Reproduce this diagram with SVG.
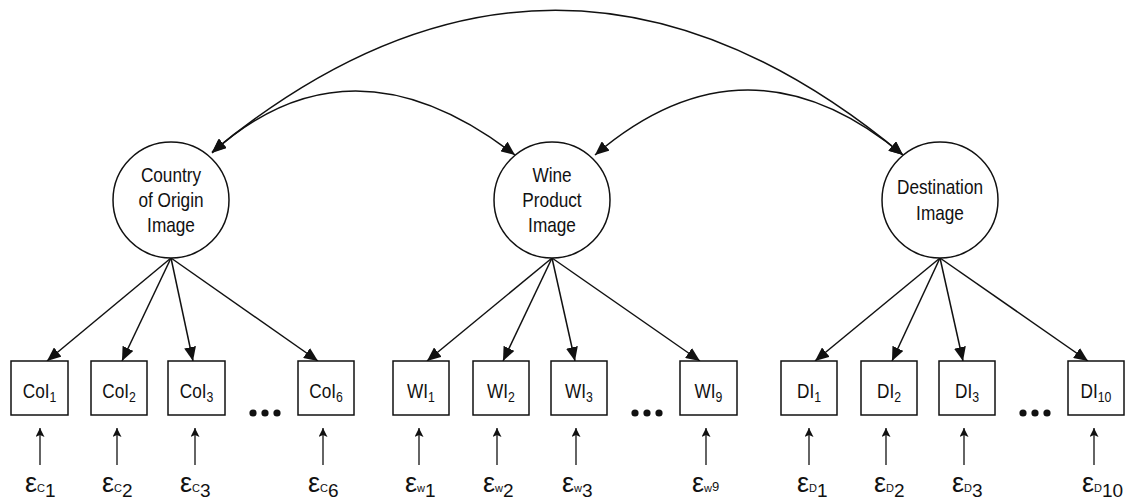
<svg xmlns="http://www.w3.org/2000/svg" width="1127" height="499" viewBox="0 0 1127 499">
  <style>
    .txt { font-family: "Liberation Sans Narrow", "Liberation Sans", Arial, sans-serif; fill: #111; }
    .lat { font-size: 21px; text-anchor: middle; }
    .ind { font-size: 21px; text-anchor: middle; }
    .sub { font-size: 15px; }
    .eps { font-family: "Liberation Sans", Arial, sans-serif; font-size: 27px; fill: #111; }
    .esub { font-size: 11px; }
    .enum { font-size: 19px; }
    .node { fill: #fff; stroke: #111; stroke-width: 1.5; }
    .edge { fill: none; stroke: #111; stroke-width: 1.5; }
    .err { fill: none; stroke: #111; stroke-width: 1.3; }
    .dot { fill: #111; }
  </style>
  <defs>
    <marker id="head" markerUnits="userSpaceOnUse" markerWidth="15" markerHeight="12" refX="14" refY="6" orient="auto-start-reverse">
      <path d="M0,0 L14,6 L0,12 z" fill="#111"/>
    </marker>
    <marker id="small" markerUnits="userSpaceOnUse" markerWidth="10" markerHeight="10" refX="9" refY="4.5" orient="auto">
      <path d="M0,0 L9,4.5 L0,9 L2,4.5 z" fill="#111"/>
    </marker>
  </defs>

  <!-- connectors -->
  <g id="connectors">
    <!-- covariances between latent factors -->
    <path class="edge" d="M212,153 Q350,28 515,155" marker-start="url(#head)" marker-end="url(#head)"/>
    <path class="edge" d="M595,155 Q747,25 903,155" marker-start="url(#head)" marker-end="url(#head)"/>
    <path class="edge" d="M212,152 Q557,-133 903,155" marker-start="url(#head)" marker-end="url(#head)"/>

    <!-- loadings: Country of Origin Image -->
    <line class="edge" x1="171" y1="258" x2="47" y2="361" marker-end="url(#head)"/>
    <line class="edge" x1="171" y1="258" x2="122" y2="361" marker-end="url(#head)"/>
    <line class="edge" x1="171" y1="258" x2="193" y2="361" marker-end="url(#head)"/>
    <line class="edge" x1="171" y1="258" x2="318" y2="361" marker-end="url(#head)"/>

    <!-- loadings: Wine Product Image -->
    <line class="edge" x1="552" y1="258" x2="427" y2="361" marker-end="url(#head)"/>
    <line class="edge" x1="552" y1="258" x2="503" y2="361" marker-end="url(#head)"/>
    <line class="edge" x1="552" y1="258" x2="575" y2="361" marker-end="url(#head)"/>
    <line class="edge" x1="552" y1="258" x2="700" y2="361" marker-end="url(#head)"/>

    <!-- loadings: Destination Image -->
    <line class="edge" x1="940" y1="258" x2="815" y2="361" marker-end="url(#head)"/>
    <line class="edge" x1="940" y1="258" x2="892" y2="361" marker-end="url(#head)"/>
    <line class="edge" x1="940" y1="258" x2="963" y2="361" marker-end="url(#head)"/>
    <line class="edge" x1="940" y1="258" x2="1088" y2="361" marker-end="url(#head)"/>

    <!-- error terms -->
    <line class="err" x1="40" y1="465" x2="40" y2="428" marker-end="url(#small)"/>
    <line class="err" x1="117" y1="465" x2="117" y2="428" marker-end="url(#small)"/>
    <line class="err" x1="195" y1="465" x2="195" y2="428" marker-end="url(#small)"/>
    <line class="err" x1="323" y1="465" x2="323" y2="428" marker-end="url(#small)"/>
    <line class="err" x1="419" y1="465" x2="419" y2="428" marker-end="url(#small)"/>
    <line class="err" x1="497" y1="465" x2="497" y2="428" marker-end="url(#small)"/>
    <line class="err" x1="576" y1="465" x2="576" y2="428" marker-end="url(#small)"/>
    <line class="err" x1="706" y1="465" x2="706" y2="428" marker-end="url(#small)"/>
    <line class="err" x1="809" y1="465" x2="809" y2="428" marker-end="url(#small)"/>
    <line class="err" x1="886" y1="465" x2="886" y2="428" marker-end="url(#small)"/>
    <line class="err" x1="964" y1="465" x2="964" y2="428" marker-end="url(#small)"/>
    <line class="err" x1="1094" y1="465" x2="1094" y2="428" marker-end="url(#small)"/>
  </g>

  <!-- latent factors (labels squeezed horizontally for a condensed face) -->
  <g id="coi">
    <circle class="node" cx="171" cy="200" r="58"/>
    <g transform="translate(171 0) scale(0.82 1)">
      <text class="txt lat" x="0" y="182">Country</text>
      <text class="txt lat" x="0" y="207">of Origin</text>
      <text class="txt lat" x="0" y="232">Image</text>
    </g>
  </g>
  <g id="wpi">
    <circle class="node" cx="552" cy="200" r="58"/>
    <g transform="translate(552 0) scale(0.82 1)">
      <text class="txt lat" x="0" y="182">Wine</text>
      <text class="txt lat" x="0" y="207">Product</text>
      <text class="txt lat" x="0" y="232">Image</text>
    </g>
  </g>
  <g id="di">
    <circle class="node" cx="940" cy="200" r="58"/>
    <g transform="translate(940 0) scale(0.82 1)">
      <text class="txt lat" x="0" y="194">Destination</text>
      <text class="txt lat" x="0" y="220">Image</text>
    </g>
  </g>

  <!-- indicators -->
  <g id="coi1"><rect class="node" x="11" y="361" width="57" height="54"/><text class="txt ind" transform="translate(39.5 0) scale(0.82 1)" x="0" y="398">CoI<tspan class="sub" dy="4">1</tspan></text></g>
  <g id="coi2"><rect class="node" x="91" y="361" width="56" height="54"/><text class="txt ind" transform="translate(119 0) scale(0.82 1)" x="0" y="398">CoI<tspan class="sub" dy="4">2</tspan></text></g>
  <g id="coi3"><rect class="node" x="168" y="361" width="57" height="54"/><text class="txt ind" transform="translate(196.5 0) scale(0.82 1)" x="0" y="398">CoI<tspan class="sub" dy="4">3</tspan></text></g>
  <g id="coi6"><rect class="node" x="298" y="361" width="56" height="54"/><text class="txt ind" transform="translate(326 0) scale(0.82 1)" x="0" y="398">CoI<tspan class="sub" dy="4">6</tspan></text></g>

  <g id="wi1"><rect class="node" x="393" y="361" width="56" height="54"/><text class="txt ind" transform="translate(421 0) scale(0.82 1)" x="0" y="398">WI<tspan class="sub" dy="4">1</tspan></text></g>
  <g id="wi2"><rect class="node" x="473" y="361" width="56" height="54"/><text class="txt ind" transform="translate(501 0) scale(0.82 1)" x="0" y="398">WI<tspan class="sub" dy="4">2</tspan></text></g>
  <g id="wi3"><rect class="node" x="551" y="361" width="56" height="54"/><text class="txt ind" transform="translate(579 0) scale(0.82 1)" x="0" y="398">WI<tspan class="sub" dy="4">3</tspan></text></g>
  <g id="wi9"><rect class="node" x="680" y="361" width="57" height="54"/><text class="txt ind" transform="translate(708.5 0) scale(0.82 1)" x="0" y="398">WI<tspan class="sub" dy="4">9</tspan></text></g>

  <g id="di1"><rect class="node" x="781" y="361" width="56" height="54"/><text class="txt ind" transform="translate(809 0) scale(0.82 1)" x="0" y="398">DI<tspan class="sub" dy="4">1</tspan></text></g>
  <g id="di2"><rect class="node" x="861" y="361" width="56" height="54"/><text class="txt ind" transform="translate(889 0) scale(0.82 1)" x="0" y="398">DI<tspan class="sub" dy="4">2</tspan></text></g>
  <g id="di3"><rect class="node" x="939" y="361" width="56" height="54"/><text class="txt ind" transform="translate(967 0) scale(0.82 1)" x="0" y="398">DI<tspan class="sub" dy="4">3</tspan></text></g>
  <g id="di10"><rect class="node" x="1068" y="361" width="56" height="54"/><text class="txt ind" transform="translate(1096 0) scale(0.82 1)" x="0" y="398">DI<tspan class="sub" dy="4">10</tspan></text></g>

  <!-- omitted indicators -->
  <g id="ellipses">
    <circle class="dot" cx="253" cy="413" r="3.6"/><circle class="dot" cx="265" cy="413" r="3.6"/><circle class="dot" cx="277" cy="413" r="3.6"/>
    <circle class="dot" cx="635" cy="413" r="3.6"/><circle class="dot" cx="647" cy="413" r="3.6"/><circle class="dot" cx="659" cy="413" r="3.6"/>
    <circle class="dot" cx="1023" cy="413" r="3.6"/><circle class="dot" cx="1035" cy="413" r="3.6"/><circle class="dot" cx="1047" cy="413" r="3.6"/>
  </g>

  <!-- error labels -->
  <g id="errors">
    <text class="eps" x="25" y="492">ε<tspan class="esub">C</tspan><tspan class="enum" dy="5">1</tspan></text>
    <text class="eps" x="102" y="492">ε<tspan class="esub">C</tspan><tspan class="enum" dy="5">2</tspan></text>
    <text class="eps" x="180" y="492">ε<tspan class="esub">C</tspan><tspan class="enum" dy="5">3</tspan></text>
    <text class="eps" x="308" y="492">ε<tspan class="esub">C</tspan><tspan class="enum" dy="5">6</tspan></text>
    <text class="eps" x="405" y="492">ε<tspan class="esub">w</tspan><tspan class="enum" dy="5">1</tspan></text>
    <text class="eps" x="483" y="492">ε<tspan class="esub">w</tspan><tspan class="enum" dy="5">2</tspan></text>
    <text class="eps" x="562" y="492">ε<tspan class="esub">w</tspan><tspan class="enum" dy="5">3</tspan></text>
    <text class="eps" x="692" y="492">ε<tspan class="esub">w</tspan><tspan class="enum" dy="-1" style="font-size:13px">9</tspan></text>
    <text class="eps" x="797" y="492">ε<tspan class="esub">D</tspan><tspan class="enum" dy="5">1</tspan></text>
    <text class="eps" x="874" y="492">ε<tspan class="esub">D</tspan><tspan class="enum" dy="5">2</tspan></text>
    <text class="eps" x="952" y="492">ε<tspan class="esub">D</tspan><tspan class="enum" dy="5">3</tspan></text>
    <text class="eps" x="1082" y="492">ε<tspan class="esub">D</tspan><tspan class="enum" dy="5">10</tspan></text>
  </g>
</svg>
